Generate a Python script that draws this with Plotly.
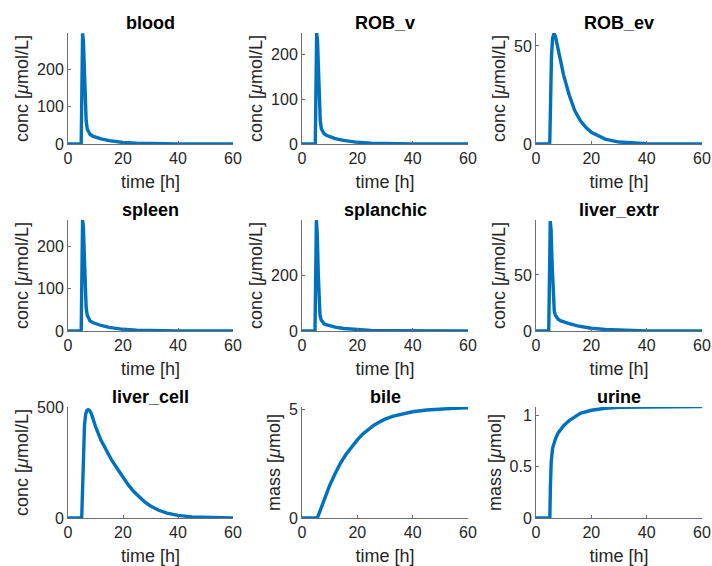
import plotly.graph_objects as go

# ---- data ----
t_blood = [0, 4.8, 5.3, 5.6, 6.0, 6.3, 6.6, 7.0, 7.5, 8, 9, 10, 12, 15, 20, 25, 30, 40, 50, 60]
blood = [0, 0, 295, 275, 190, 110, 62, 40, 31, 26, 21, 18, 13.5, 9, 4, 2, 1, 0.2, 0.05, 0]

t_robv = [0, 4.8, 5.3, 5.6, 6.0, 6.3, 6.6, 7.0, 7.5, 8, 9, 10, 12, 15, 20, 25, 30, 40, 50, 60]
rob_v = [0, 0, 249, 232, 160, 92, 52, 34, 27, 23, 19, 16, 12, 8, 3.8, 1.8, 0.9, 0.2, 0.05, 0]

t_robev = [0, 4.9, 5.0, 5.3, 5.6, 6.0, 6.5, 7.0, 8, 10, 12, 14, 16, 18, 20, 25, 30, 35, 40, 50, 60]
rob_ev = [0, 0, 2, 25, 45, 54, 56.3, 55, 48, 35, 25, 17, 12, 8.5, 6, 2.5, 1, 0.4, 0.15, 0.02, 0]

t_spleen = [0, 4.8, 5.3, 5.6, 6.0, 6.3, 6.6, 7.0, 7.5, 8, 9, 10, 12, 15, 20, 25, 30, 40, 50, 60]
spleen = [0, 0, 262, 245, 165, 98, 56, 37, 29, 24, 20, 17, 13, 8.5, 4, 1.9, 0.9, 0.2, 0.05, 0]

t_splanchic = [0, 4.7, 5.2, 5.5, 5.9, 6.2, 6.5, 6.9, 7.5, 8, 9, 10, 12, 15, 20, 25, 30, 40, 50, 60]
splanchic = [0, 0, 398, 350, 200, 100, 58, 40, 31, 26, 22, 19, 14, 9, 4.5, 2, 1, 0.2, 0.05, 0]

t_liverextr = [0, 4.6, 5.15, 5.45, 5.85, 6.25, 6.6, 7.0, 7.5, 8, 9, 10, 12, 15, 20, 25, 30, 40, 50, 60]
liver_extr = [0, 0, 98, 90, 58, 30, 18, 14, 12, 10.5, 9, 8, 6.5, 4.5, 2.5, 1.3, 0.7, 0.15, 0.03, 0]

t_livercell = [0, 4.9, 5.0, 5.3, 5.6, 6.0, 6.4, 6.8, 7.3, 7.8, 8.5, 10, 12, 14, 16, 18, 20, 22, 24, 26, 28, 30, 33, 36, 40, 45, 50, 55, 60]
liver_cell = [0, 0, 5, 150, 320, 420, 465, 483, 488, 485, 470, 412, 350, 300, 258, 221, 184, 148, 118, 92, 71, 54, 35, 22, 12, 5, 2.2, 1, 0.4]

t_bile = [0, 5.5, 6, 7, 8, 10, 12, 14, 16, 18, 20, 22, 24, 26, 28, 30, 33, 36, 40, 45, 50, 55, 60]
bile = [0, 0, 0.15, 0.5, 0.85, 1.5, 2.05, 2.55, 2.95, 3.3, 3.6, 3.88, 4.1, 4.28, 4.43, 4.56, 4.7, 4.8, 4.9, 4.98, 5.03, 5.06, 5.08]

t_urine = [0, 5.0, 5.2, 5.5, 6, 7, 8, 10, 12, 14, 16, 20, 25, 30, 40, 50, 60]
urine = [0, 0, 0.3, 0.55, 0.68, 0.77, 0.83, 0.9, 0.95, 0.99, 1.02, 1.05, 1.07, 1.08, 1.085, 1.087, 1.087]

titles = ["blood", "ROB_v", "ROB_ev", "spleen", "splanchic", "liver_extr", "liver_cell", "bile", "urine"]
series_t = [t_blood, t_robv, t_robev, t_spleen, t_splanchic, t_liverextr, t_livercell, t_bile, t_urine]
series_y = [blood, rob_v, rob_ev, spleen, splanchic, liver_extr, liver_cell, bile, urine]
y_max = [296, 249, 56.6, 262, 398, 99, 500, 5.12, 1.082]
y_ticks = [[0, 100, 200], [0, 100, 200], [0, 50], [0, 100, 200], [0, 200, 400], [0, 50, 100], [0, 500], [0, 5], [0, 0.5, 1]]
y_ticktext = [["0", "100", "200"], ["0", "100", "200"], ["0", "50"], ["0", "100", "200"], ["0", "200", "400"],
              ["0", "50", "100"], ["0", "500"], ["0", "5"], ["0", "0.5", "1"]]
y_labels = ["conc [<i>μ</i>mol/L]"] * 7 + ["mass [<i>μ</i>mol]"] * 2
x_ticks = [0, 20, 40, 60]
x_label = "time [h]"

W, H = 712, 566
col_px = [(68, 233), (302, 468), (536, 702)]
row_px = [(33, 144), (220, 331), (407, 518)]

FONT = "Liberation Sans, Arial, sans-serif"
TXT = "#262626"
AX = "#6e6e6e"
BLUE = "#0072BD"

fig = go.Figure()
layout = dict(width=W, height=H, margin=dict(l=0, r=0, t=0, b=0, pad=0), autosize=False,
              paper_bgcolor="white", plot_bgcolor="white", showlegend=False,
              font=dict(family=FONT, size=16, color=TXT))
annotations = []
for i in range(9):
    r, c = divmod(i, 3)
    n = "" if i == 0 else str(i + 1)
    xa, ya = "x" + n, "y" + n
    fig.add_trace(go.Scatter(x=series_t[i], y=series_y[i], mode="lines",
                             line=dict(color=BLUE, width=3.4), xaxis=xa, yaxis=ya))
    x0, x1 = col_px[c]
    y0, y1 = row_px[r]
    layout["xaxis" + n] = dict(domain=[x0 / W, x1 / W], anchor=ya, range=[0, 60], automargin=False,
                               tickvals=x_ticks, ticks="inside", ticklen=3, tickcolor=AX,
                               showline=True, linecolor=AX, linewidth=1, showgrid=False,
                               zeroline=False, tickfont=dict(size=16, color=TXT),
                               title=dict(text=x_label, standoff=9, font=dict(size=18, color=TXT)))
    layout["yaxis" + n] = dict(domain=[1 - y1 / H, 1 - y0 / H], anchor=xa, range=[0, y_max[i]],
                               automargin=False,
                               tickvals=y_ticks[i], ticktext=y_ticktext[i], ticks="inside", ticklen=3,
                               tickcolor=AX, showline=True, linecolor=AX, linewidth=1, showgrid=False,
                               zeroline=False, tickfont=dict(size=16, color=TXT),
                               title=dict(text=y_labels[i], standoff=3, font=dict(size=18, color=TXT)))
    annotations.append(dict(text="<b>" + titles[i] + "</b>", x=(x0 + x1) / 2 / W, y=1 - y0 / H,
                            xref="paper", yref="paper", xanchor="center", yanchor="bottom",
                            yshift=-2, showarrow=False, font=dict(size=18, color="black", family=FONT)))
layout["annotations"] = annotations
fig.update_layout(**layout)
fig.write_html("out.html")
